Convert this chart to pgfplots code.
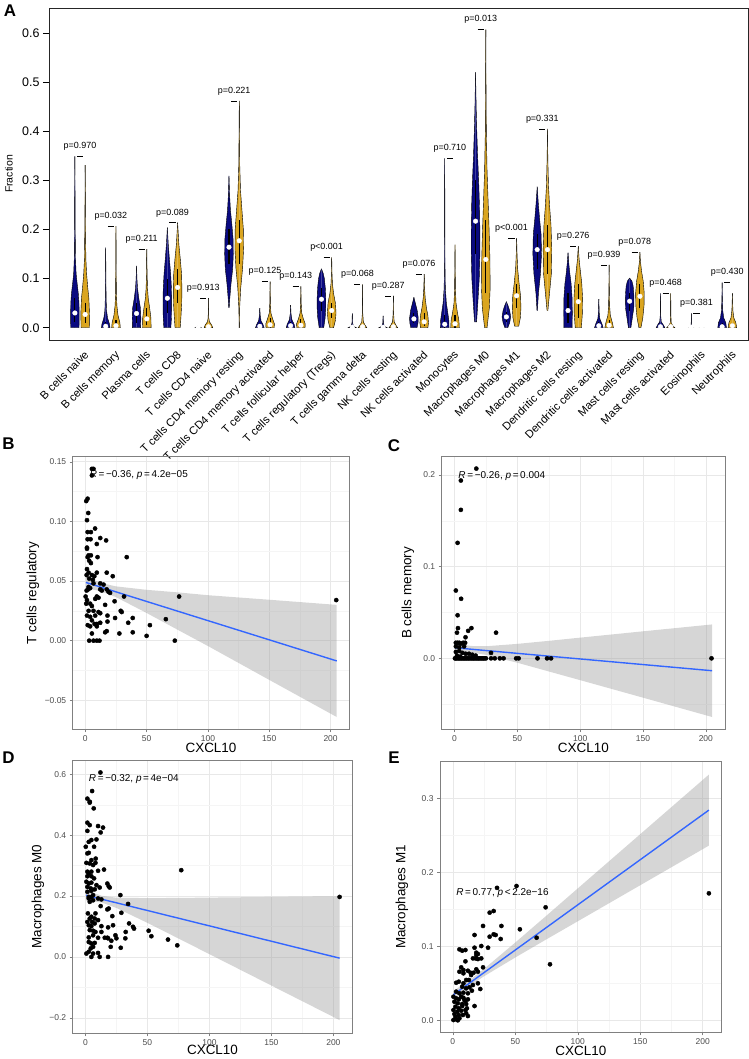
\documentclass[border=0pt]{standalone}
\usepackage{pgfplots}
\pgfplotsset{compat=1.18}
\usepackage{fontspec}
\setmainfont{Liberation Sans}
\definecolor{vblue}{RGB}{10,10,128}
\definecolor{vgold}{RGB}{218,165,32}
\definecolor{regblue}{HTML}{3366FF}

% violin: #1 x, #2 colour, #3 median, #4 q1, #5 q3, #6 profile rows (y halfwidth)
\newcommand{\vio}[6]{%
\addplot[draw=none, fill=#2] table[row sep=\\, x expr=#1+\thisrow{w}, y=y] {y w\\ #6};
\addplot[draw=none, fill=#2] table[row sep=\\, x expr=#1-\thisrow{w}, y=y] {y w\\ #6};
\addplot[black, line width=0.4bp] table[row sep=\\, x expr=#1+\thisrow{w}, y=y] {y w\\ #6};
\addplot[black, line width=0.4bp] table[row sep=\\, x expr=#1-\thisrow{w}, y=y] {y w\\ #6};
\addplot[black, line width=1.1bp] coordinates {(#1,#4) (#1,#5)};
\addplot[only marks, mark=*, mark size=2.3bp, mark options={draw=white, fill=white}] coordinates {(#1,#3)};
}
\newcommand{\pv}[3]{%
\addplot[black, line width=0.45bp] table[row sep=\\, x expr=#1+\thisrow{d}, y=y] {d y\\0.2 #2\\0.8 #2\\};
\node[font=\fontsize{9}{10}\selectfont, xshift=5.14bp, yshift=9.8bp] at (axis cs:#1,#2) {#3};
}

\pgfplotsset{scat/.style={
  scale only axis, anchor=south west,
  xmin=-10.25, xmax=215.25,
  xtick={0,50,100,150,200}, minor xtick={25,75,125,175},
  xticklabels={0,50,100,150,200},
  grid=both,
  major grid style={draw=black!9, line width=0.5bp},
  minor grid style={draw=black!4, line width=0.35bp},
  axis line style={draw=black!50, line width=0.5bp},
  xtick pos=left, ytick pos=left, tick align=outside,
  major tick length=3bp, minor tick length=0bp,
  tick style={draw=black!50, line width=0.4bp},
  ticklabel style={font=\fontsize{8.5}{9}\selectfont, text=black!70},
  xlabel={CXCL10},
  label style={font=\fontsize{13.5}{15}\selectfont},
  xlabel style={at={(axis description cs:0.5,0)}, anchor=center, yshift=-19bp},
}}

\begin{document}
\begin{tikzpicture}
\path[use as bounding box] (0,0) rectangle (749bp,1059bp);

%================ Panel A =================
\begin{axis}[
  scale only axis, width=699bp, height=332bp, at={(49bp,719bp)}, anchor=south west,
  xmin=-2.52, xmax=65.52, ymin=-0.025, ymax=0.651,
  axis line style={line width=0.6bp, draw=black!85},
  xtick={0.5,3.5,6.5,9.5,12.5,15.5,18.5,21.5,24.5,27.5,30.5,33.5,36.5,39.5,42.5,45.5,48.5,51.5,54.5,57.5,60.5,63.5},
  xticklabels={B cells naive, B cells memory, Plasma cells, T cells CD8, T cells CD4 naive, T cells CD4 memory resting, T cells CD4 memory activated, T cells follicular helper, T cells regulatory (Tregs), T cells gamma delta, NK cells resting, NK cells activated, Monocytes, Macrophages M0, Macrophages M1, Macrophages M2, Dendritic cells resting, Dendritic cells activated, Mast cells resting, Mast cells activated, Eosinophils, Neutrophils},
  x tick style={draw=none},
  xticklabel style={rotate=45, anchor=north east, font=\fontsize{11.3}{12}\selectfont, inner sep=0bp, yshift=-5bp},
  ytick={0,0.1,0.2,0.3,0.4,0.5,0.6}, yticklabels={0.0,0.1,0.2,0.3,0.4,0.5,0.6},
  ytick pos=left, tick align=outside, major tick length=6bp,
  y tick style={draw=black, line width=0.5bp},
  yticklabel style={font=\fontsize{12.5}{13}\selectfont},
  ylabel={Fraction},
  ylabel style={at={(axis description cs:0,0.5)}, yshift=40bp, anchor=center, font=\fontsize{10.5}{12}\selectfont},
  clip=false,
]
\vio{0}{vblue}{0.030}{0.012}{0.06}{0 0\\0 0.40\\0.02 0.42\\0.05 0.40\\0.07 0.33\\0.09 0.22\\0.11 0.12\\0.14 0.06\\0.19 0.035\\0.26 0.02\\0.349 0\\}
\vio{1}{vgold}{0.027}{0.01}{0.05}{0 0\\0 0.40\\0.03 0.42\\0.06 0.36\\0.08 0.26\\0.11 0.14\\0.14 0.07\\0.2 0.035\\0.27 0.015\\0.331 0\\}
\vio{3}{vblue}{0.003}{0}{0.012}{0 0\\0 0.42\\0.008 0.36\\0.02 0.18\\0.035 0.08\\0.06 0.04\\0.1 0.02\\0.163 0\\}
\vio{4}{vgold}{0.004}{0}{0.015}{0 0\\0 0.42\\0.01 0.38\\0.025 0.2\\0.045 0.09\\0.07 0.04\\0.12 0.02\\0.207 0\\}
\vio{6}{vblue}{0.029}{0.01}{0.05}{0 0\\0 0.40\\0.02 0.42\\0.04 0.38\\0.06 0.22\\0.08 0.10\\0.10 0.04\\0.126 0\\}
\vio{7}{vgold}{0.018}{0.005}{0.04}{0 0\\0 0.42\\0.02 0.40\\0.04 0.28\\0.06 0.14\\0.08 0.07\\0.11 0.03\\0.160 0\\}
\vio{9}{vblue}{0.060}{0.03}{0.10}{0 0\\0 0.34\\0.02 0.40\\0.05 0.42\\0.08 0.40\\0.11 0.32\\0.14 0.20\\0.17 0.09\\0.204 0\\}
\vio{10}{vgold}{0.082}{0.05}{0.12}{0 0\\0 0.25\\0.02 0.32\\0.05 0.40\\0.08 0.42\\0.11 0.38\\0.14 0.26\\0.17 0.12\\0.214 0\\}
\vio{12}{vblue}{0.001}{0}{0.002}{0 0\\0 0.3\\0.003 0.05\\0.005 0\\}
\vio{13}{vgold}{0.002}{0}{0.006}{0 0\\0 0.42\\0.006 0.30\\0.012 0.10\\0.02 0.03\\0.04 0.01\\0.060 0\\}
\vio{15}{vblue}{0.164}{0.13}{0.20}{0.041 0\\0.041 0.02\\0.06 0.08\\0.09 0.20\\0.12 0.36\\0.15 0.42\\0.18 0.40\\0.21 0.28\\0.24 0.14\\0.27 0.06\\0.309 0\\}
\vio{16}{vgold}{0.177}{0.13}{0.22}{0 0\\0 0.01\\0.04 0.04\\0.08 0.14\\0.12 0.32\\0.16 0.42\\0.20 0.40\\0.24 0.26\\0.28 0.12\\0.33 0.05\\0.40 0.02\\0.462 0\\}
\vio{18}{vblue}{0.003}{0}{0.01}{0 0\\0 0.42\\0.006 0.32\\0.014 0.12\\0.025 0.04\\0.040 0\\}
\vio{19}{vgold}{0.006}{0}{0.02}{0 0\\0 0.40\\0.008 0.42\\0.018 0.25\\0.03 0.08\\0.05 0.03\\0.094 0\\}
\vio{21}{vblue}{0.004}{0}{0.012}{0 0\\0 0.42\\0.007 0.34\\0.016 0.13\\0.028 0.04\\0.046 0\\}
\vio{22}{vgold}{0.005}{0}{0.018}{0 0\\0 0.40\\0.008 0.42\\0.018 0.24\\0.03 0.08\\0.05 0.03\\0.084 0\\}
\vio{24}{vblue}{0.058}{0.035}{0.08}{0 0\\0 0.22\\0.02 0.36\\0.04 0.42\\0.06 0.42\\0.08 0.38\\0.10 0.28\\0.11 0.18\\0.12 0\\}
\vio{25}{vgold}{0.035}{0.02}{0.05}{0 0\\0 0.18\\0.015 0.36\\0.03 0.42\\0.05 0.36\\0.07 0.18\\0.09 0.07\\0.11 0.03\\0.143 0\\}
\vio{27}{vblue}{0.001}{0}{0.003}{0 0\\0 0.40\\0.003 0.12\\0.01 0.03\\0.029 0\\}
\vio{28}{vgold}{0.002}{0}{0.006}{0 0\\0 0.42\\0.005 0.25\\0.012 0.08\\0.03 0.02\\0.088 0\\}
\vio{30}{vblue}{0.001}{0}{0.003}{0 0\\0 0.40\\0.003 0.12\\0.01 0.03\\0.024 0\\}
\vio{31}{vgold}{0.002}{0}{0.005}{0 0\\0 0.42\\0.005 0.25\\0.012 0.08\\0.03 0.02\\0.065 0\\}
\vio{33}{vblue}{0.018}{0.01}{0.03}{0 0\\0 0.30\\0.01 0.40\\0.02 0.42\\0.035 0.32\\0.05 0.14\\0.062 0\\}
\vio{34}{vgold}{0.012}{0.004}{0.03}{0 0\\0 0.36\\0.01 0.42\\0.025 0.36\\0.04 0.22\\0.06 0.10\\0.08 0.04\\0.109 0\\}
\vio{36}{vblue}{0.007}{0}{0.025}{0 0\\0 0.42\\0.015 0.40\\0.03 0.30\\0.05 0.16\\0.08 0.06\\0.12 0.03\\0.2 0.015\\0.345 0\\}
\vio{37}{vgold}{0.008}{0}{0.025}{0 0\\0 0.42\\0.015 0.38\\0.03 0.24\\0.05 0.10\\0.08 0.04\\0.12 0.02\\0.169 0\\}
\vio{39}{vblue}{0.217}{0.15}{0.30}{0.012 0\\0.012 0.10\\0.05 0.22\\0.1 0.36\\0.15 0.42\\0.2 0.42\\0.25 0.38\\0.3 0.30\\0.35 0.20\\0.4 0.12\\0.45 0.06\\0.520 0\\}
\vio{40}{vgold}{0.139}{0.07}{0.22}{0 0\\0 0.12\\0.04 0.34\\0.08 0.42\\0.14 0.40\\0.2 0.32\\0.26 0.22\\0.32 0.12\\0.4 0.05\\0.5 0.02\\0.607 0\\}
\vio{42}{vblue}{0.022}{0.012}{0.032}{0 0\\0 0.14\\0.01 0.32\\0.022 0.42\\0.035 0.32\\0.045 0.16\\0.053 0\\}
\vio{43}{vgold}{0.065}{0.04}{0.09}{0.003 0\\0.003 0.20\\0.02 0.36\\0.04 0.42\\0.065 0.38\\0.09 0.24\\0.12 0.10\\0.15 0.04\\0.182 0\\}
\vio{45}{vblue}{0.159}{0.12}{0.19}{0.035 0\\0.035 0.02\\0.07 0.12\\0.11 0.32\\0.15 0.42\\0.19 0.38\\0.22 0.24\\0.25 0.12\\0.287 0\\}
\vio{46}{vgold}{0.159}{0.11}{0.21}{0.035 0\\0.035 0.04\\0.07 0.20\\0.11 0.38\\0.16 0.42\\0.21 0.34\\0.25 0.20\\0.29 0.10\\0.34 0.04\\0.405 0\\}
\vio{48}{vblue}{0.035}{0.01}{0.07}{0 0\\0 0.40\\0.03 0.42\\0.06 0.40\\0.09 0.30\\0.11 0.18\\0.13 0.08\\0.153 0\\}
\vio{49}{vgold}{0.053}{0.02}{0.09}{0 0\\0 0.30\\0.03 0.40\\0.06 0.42\\0.09 0.34\\0.12 0.18\\0.14 0.08\\0.166 0\\}
\vio{51}{vblue}{0.004}{0}{0.012}{0 0\\0 0.42\\0.008 0.30\\0.018 0.10\\0.03 0.04\\0.058 0\\}
\vio{52}{vgold}{0.005}{0}{0.015}{0 0\\0 0.42\\0.01 0.32\\0.025 0.12\\0.045 0.05\\0.08 0.02\\0.128 0\\}
\vio{54}{vblue}{0.054}{0.035}{0.07}{0 0\\0 0.12\\0.02 0.26\\0.04 0.40\\0.055 0.42\\0.07 0.40\\0.085 0.34\\0.095 0.22\\0.101 0\\}
\vio{55}{vgold}{0.064}{0.04}{0.09}{0 0\\0 0.10\\0.02 0.28\\0.045 0.40\\0.07 0.42\\0.095 0.32\\0.115 0.16\\0.135 0.05\\0.154 0\\}
\vio{57}{vblue}{0.002}{0}{0.006}{0 0\\0 0.42\\0.005 0.30\\0.012 0.08\\0.025 0.02\\0.070 0\\}
\vio{58}{vgold}{0.002}{0}{0.006}{0 0\\0 0.40\\0.004 0.20\\0.01 0.05\\0.025 0.015\\0.070 0\\}
\vio{60}{vblue}{0.001}{0}{0.002}{0 0\\0 0.2\\0.002 0.03\\0.01 0.01\\0.029 0\\}
\vio{61}{vgold}{0.001}{0}{0.002}{0 0\\0 0.2\\0.003 0\\}
\vio{63}{vblue}{0.002}{0}{0.01}{0 0\\0 0.42\\0.01 0.36\\0.02 0.16\\0.035 0.06\\0.06 0.02\\0.092 0\\}
\vio{64}{vgold}{0.004}{0}{0.01}{0 0\\0 0.42\\0.01 0.34\\0.02 0.14\\0.035 0.05\\0.070 0\\}
\pv{0}{0.349}{p=0.970}
\pv{3}{0.207}{p=0.032}
\pv{6}{0.160}{p=0.211}
\pv{9}{0.214}{p=0.089}
\pv{12}{0.060}{p=0.913}
\pv{15}{0.462}{p=0.221}
\pv{18}{0.094}{p=0.125}
\pv{21}{0.084}{p=0.143}
\pv{24}{0.143}{p<0.001}
\pv{27}{0.088}{p=0.068}
\pv{30}{0.065}{p=0.287}
\pv{33}{0.109}{p=0.076}
\pv{36}{0.345}{p=0.710}
\pv{39}{0.607}{p=0.013}
\pv{42}{0.182}{p<0.001}
\pv{45}{0.405}{p=0.331}
\pv{48}{0.166}{p=0.276}
\pv{51}{0.128}{p=0.939}
\pv{54}{0.154}{p=0.078}
\pv{57}{0.070}{p=0.468}
\pv{60}{0.029}{p=0.381}
\pv{63}{0.092}{p=0.430}
\end{axis}

%================ Panel B =================
\begin{axis}[scat, width=276.6bp, height=272.6bp, at={(72.7bp,329.7bp)},
  ymin=-0.0743, ymax=0.1542,
  ytick={-0.05,0,0.05,0.10,0.15}, yticklabels={−0.05,0.00,0.05,0.10,0.15},
  minor ytick={-0.025,0.025,0.075,0.125},
  ylabel={T cells regulatory},
  ylabel style={at={(axis description cs:0,0.5)}, anchor=center, yshift=39.7bp},
]
\addplot[only marks, mark=*, mark size=2.1bp, mark options={draw=black, fill=black}] coordinates {
(5.4,0.144)(6.7,0.144)(5.4,0.1385)(0.8,0.117)(1.9,0.119)(2.4,0.107)(1.4,0.101)(1.9,0.091)(4.6,0.091)(8.0,0.094)(1.9,0.085)(4.3,0.085)(12.2,0.086)(17.0,0.084)(9.4,0.081)(1.4,0.078)
(1.4,0.077)(2.7,0.0715)(4.6,0.0715)(1.9,0.070)(10.0,0.070)(33.8,0.070)(3.2,0.067)(4.6,0.065)(1.4,0.060)(2.7,0.057)(9.4,0.057)(17.5,0.057)(1.1,0.055)(5.4,0.055)(7.4,0.054)(22.4,0.054)(3.2,0.052)(6.2,0.051)(12.2,0.048)(14.9,0.047)(1.1,0.042)(2.4,0.043)(6.7,0.048)(12.2,0.043)(13.5,0.042)(17.5,0.043)(18.9,0.041)(2.7,0.045)(4.0,0.044)(20.2,0.040)(9.4,0.037)(10.8,0.036)(8.1,0.035)(0.3,0.037)(1.4,0.034)(0.8,0.031)(4.0,0.031)(5.4,0.029)(23.9,0.033)(31.6,0.037)(2.7,0.025)(6.7,0.025)(10.8,0.024)(12.2,0.023)(28.9,0.025)(29.7,0.024)(16.2,0.030)(1.4,0.021)(4.0,0.020)(8.1,0.021)(18.1,0.021)(24.3,0.019)(38.7,0.019)(5.4,0.017)(9.4,0.014)(12.2,0.015)(18.1,0.016)(2.0,0.013)(4.0,0.012)(7.6,0.014)(9.4,0.012)(35.0,0.015)(52.7,0.013)(5.4,0.006)(16.2,0.007)(17.5,0.008)(27.8,0.006)(38.7,0.007)(50.0,0.004)(3.2,0.000)(6.7,0.000)(9.4,0.000)(11.6,0.000)(73.0,0.000)(65.7,0.018)(76.5,0.037)(204.6,0.034)
};
\addplot[fill=black!40, fill opacity=0.4, draw=none] coordinates {
(0.5,0.0535)(13,0.0483)(25,0.0455)(50,0.0426)(75,0.0405)(100,0.0381)(150,0.0343)(205,0.0300)
(205,-0.0640)(150,-0.0329)(100,-0.0045)(75,0.0093)(50,0.0232)(25,0.0365)(13,0.0413)(0.5,0.0441)
};
\addplot[regblue, line width=1.4bp] coordinates {(0.5,0.0488) (205,-0.0170)};
\node[anchor=west, font=\fontsize{10}{11}\selectfont] at (axis cs:0.8,0.1385) {\textit{R}\,=\,−0.36, \textit{p}\,=\,4.2e−05};
\end{axis}

%================ Panel C =================
\begin{axis}[scat, width=283.3bp, height=272.6bp, at={(441.7bp,329.7bp)},
  ymin=-0.0774, ymax=0.22,
  ytick={0,0.1,0.2}, yticklabels={0.0,0.1,0.2},
  minor ytick={-0.05,0.05,0.15},
  ylabel={B cells memory},
  ylabel style={at={(axis description cs:0,0.5)}, anchor=center, yshift=33.7bp},
]
\addplot[only marks, mark=*, mark size=2.1bp, mark options={draw=black, fill=black}] coordinates {
(17.3,0.207)(5,0.194)(5,0.162)(2.4,0.126)(1.0,0.074)(5.2,0.065)(2.4,0.047)(2.7,0.033)(1.9,0.028)(13.4,0.033)(10.8,0.030)(8.7,0.023)(33,0.028)
(1,0.017)(2.4,0.017)(3.7,0.017)(5,0.016)(6.8,0.017)(8.4,0.017)(1,0.013)(3.7,0.012)(7.6,0.013)
(1,0.007)(3.7,0.008)(6.3,0.006)(8.9,0.005)(11.5,0.005)(14.1,0.004)(16.8,0.003)(29,0.006)(2,0.003)(4.5,0.002)
(0.3,0)(1,0)(2,0)(3,0)(4,0)(5,0)(6,0)(7,0)(8,0)(9,0)(10,0)(11,0)(12,0)(13,0)(14,0)(15,0)(16,0)(17,0)(18,0)(19,0)(20,0)(21,0)(22,0)(23,0)(24,0)(25,0)
(29,0)(32,0)(36,0)(39,0)(49,0)(51,0)(66,0)(73.6,0)(76.8,0)(204.5,0)
};
\addplot[fill=black!40, fill opacity=0.4, draw=none] coordinates {
(0.5,0.0163)(13,0.0135)(25,0.0132)(50,0.0158)(75,0.0191)(100,0.0226)(150,0.0295)(205,0.0370)
(205,-0.0640)(150,-0.0429)(100,-0.0238)(75,-0.0143)(50,-0.0048)(25,0.0038)(13,0.0065)(0.5,0.0067)
};
\addplot[regblue, line width=1.4bp] coordinates {(0.5,0.0115) (205,-0.0135)};
\node[anchor=west, font=\fontsize{10}{11}\selectfont] at (axis cs:0.3,0.199) {\textit{R}\,=\,−0.26, \textit{p}\,=\,0.004};
\end{axis}

%================ Panel D =================
\begin{axis}[scat, width=279.6bp, height=273.3bp, at={(72.7bp,25.7bp)},
  ymin=-0.251, ymax=0.647,
  ytick={-0.2,0,0.2,0.4,0.6}, yticklabels={−0.2,0.0,0.2,0.4,0.6},
  minor ytick={-0.1,0.1,0.3,0.5},
  ylabel={Macrophages M0},
  ylabel style={at={(axis description cs:0,0.5)}, anchor=center, yshift=34.7bp},
  xlabel style={yshift=2bp},
]
\addplot[only marks, mark=*, mark size=2.1bp, mark options={draw=black, fill=black}] coordinates {
(12.1,0.606)(5.4,0.545)(1.6,0.52)(3.5,0.507)(6.7,0.488)(3.5,0.510)
(1.6,0.441)(3.5,0.433)(10.2,0.430)(14.2,0.425)(1.6,0.414)(12.3,0.409)
(2.7,0.378)(4.8,0.384)(8.9,0.386)(0.3,0.362)(7.0,0.362)(2.7,0.342)(1.6,0.340)(8.3,0.323)(4.8,0.318)(3.5,0.307)(0.8,0.309)(6.2,0.302)(8.1,0.309)(15.0,0.287)(77.3,0.285)
(1.6,0.280)(2.7,0.274)(4.8,0.280)(10.2,0.283)(1.6,0.265)(4.8,0.265)(7.0,0.258)(0.8,0.247)(2.7,0.241)(4.8,0.244)(8.9,0.236)(17.7,0.241)(18.8,0.232)(19.6,0.228)(1.6,0.230)(4.3,0.225)(7.5,0.222)(11.5,0.228)(1.6,0.214)(4.8,0.217)(6.2,0.203)(28.2,0.203)
(2.7,0.197)(4.8,0.197)(10.2,0.192)(12.9,0.189)(3.5,0.181)(6.2,0.186)(2.7,0.192)(34.4,0.174)(12.3,0.167)(17.7,0.156)(18.8,0.159)(29.0,0.145)(8.1,0.143)(2.0,0.143)(21.7,0.134)(3.5,0.126)(4.8,0.132)(7.5,0.126)(10.2,0.121)(5.4,0.115)(7.5,0.110)(35.2,0.110)(38.4,0.099)(39.2,0.093)(1.6,0.115)(2.7,0.104)(4.8,0.101)(12.9,0.101)(18.3,0.097)(22.3,0.104)(3.5,0.088)(6.2,0.086)(8.1,0.082)(12.9,0.082)(32.5,0.082)(51.0,0.086)(53.2,0.068)(66.6,0.057)(74.1,0.038)(24.2,0.071)(25.0,0.061)(2.7,0.064)(6.2,0.071)(10.2,0.063)(15.6,0.063)(17.7,0.063)(32.2,0.061)(2.7,0.049)(4.8,0.044)(7.5,0.046)(20.9,0.053)(18.3,0.061)(6.2,0.033)(4.3,0.028)(20.4,0.033)(28.5,0.030)(2.7,0.017)(10.2,0.013)(6.2,0.011)(0.8,0.011)(4.8,0.0)(11.5,0.0)(18.3,0.0)(205,0.197)
};
\addplot[fill=black!40, fill opacity=0.4, draw=none] coordinates {
(0.5,0.2197)(13,0.2009)(25,0.1945)(50,0.1932)(75,0.1938)(100,0.1949)(150,0.1971)(205,0.1994)
(205,-0.2076)(150,-0.0941)(100,0.0091)(75,0.0606)(50,0.1118)(25,0.1609)(13,0.1789)(0.5,0.1853)
};
\addplot[regblue, line width=1.4bp] coordinates {(0.5,0.2025) (205,-0.0041)};
\node[anchor=west, font=\fontsize{10}{11}\selectfont] at (axis cs:0,0.584) {\textit{R}\,=\,−0.32, \textit{p}\,=\,4e−04};
\end{axis}

%================ Panel E =================
\begin{axis}[scat, width=281.7bp, height=270.6bp, at={(440bp,26.7bp)},
  ymin=-0.0162, ymax=0.3495,
  ytick={0,0.1,0.2,0.3}, yticklabels={0.0,0.1,0.2,0.3},
  minor ytick={0.05,0.15,0.25},
  ylabel={Macrophages M1},
  ylabel style={at={(axis description cs:0,0.5)}, anchor=center, yshift=38bp},
]
\addplot[only marks, mark=*, mark size=2.1bp, mark options={draw=black, fill=black}] coordinates {
(35.4,0.179)(51,0.1815)(74.3,0.1527)(205,0.1716)(29.5,0.1455)(32.7,0.1477)(24.2,0.1275)(32.7,0.1162)(34.3,0.1153)(38.9,0.1275)(29.5,0.113)(38.3,0.1099)(53.7,0.123)(67.1,0.1116)(77.8,0.0757)(17.4,0.1153)(5.3,0.0959)(7.5,0.0941)(10.1,0.095)(22.8,0.1004)(17.4,0.0981)(28.2,0.0981)(18.8,0.0914)(20.1,0.0896)(18.8,0.0882)(16.1,0.0837)(18.2,0.0837)(20.1,0.0828)(22.8,0.0837)(24.2,0.0716)(10.1,0.0797)(6.7,0.0716)(8.5,0.068)(18.8,0.0689)(20.1,0.0657)(16.6,0.0643)(5.3,0.0657)(8.5,0.0635)(12.1,0.067)(14.2,0.0643)(14.7,0.0612)(2.7,0.0508)(4.8,0.0522)(8.5,0.05)(10.7,0.0545)(12.9,0.0545)(16.1,0.0477)(20.1,0.05)(7.5,0.0454)(10.7,0.0432)(13.4,0.0446)(22.0,0.0423)(2.7,0.0387)(5.3,0.0365)(8.5,0.0373)(15.3,0.04)(12.1,0.0365)(0.5,0.0319)(2.7,0.0297)(4.8,0.0284)(6.7,0.0319)(8.5,0.0305)(12.1,0.0284)(10.1,0.0261)(1.3,0.0251)(4.0,0.023)(7.5,0.022)(9.3,0.0274)(10.7,0.022)(2.1,0.0184)(4.8,0.0162)(7.5,0.0193)(11.3,0.0162)(0.5,0.0139)(3.5,0.0116)(6.7,0.013)(1.3,0.0085)(4.8,0.0072)(8.1,0.0072)(10.1,0.0139)(10.7,0.0095)(12.1,0.0058)(17.4,0.0193)(0.5,0.0004)(2.7,0.0013)(5.3,0.0027)(2.1,0.0049)(4.0,0.0)
};
\addplot[fill=black!40, fill opacity=0.4, draw=none] coordinates {
(0.5,0.0397)(13,0.0539)(25,0.0695)(50,0.1051)(75,0.1415)(100,0.1782)(150,0.2515)(205,0.3321)
(205,0.2361)(150,0.1825)(100,0.1338)(75,0.1095)(50,0.0849)(25,0.0595)(13,0.0459)(0.5,0.0295)
};
\addplot[regblue, line width=1.4bp] coordinates {(0.5,0.0346) (205,0.2841)};
\node[anchor=west, font=\fontsize{10}{11}\selectfont] at (axis cs:0,0.1724) {\textit{R}\,=\,0.77, \textit{p}\,<\,2.2e−16};
\end{axis}

%================ Panel letters =================
\node[font=\bfseries\fontsize{17}{18}\selectfont] at (10bp,1048bp) {A};
\node[font=\bfseries\fontsize{17}{18}\selectfont] at (8.5bp,615.5bp) {B};
\node[font=\bfseries\fontsize{17}{18}\selectfont] at (394bp,613.5bp) {C};
\node[font=\bfseries\fontsize{17}{18}\selectfont] at (8.5bp,301bp) {D};
\node[font=\bfseries\fontsize{17}{18}\selectfont] at (394bp,301bp) {E};
\end{tikzpicture}
\end{document}
